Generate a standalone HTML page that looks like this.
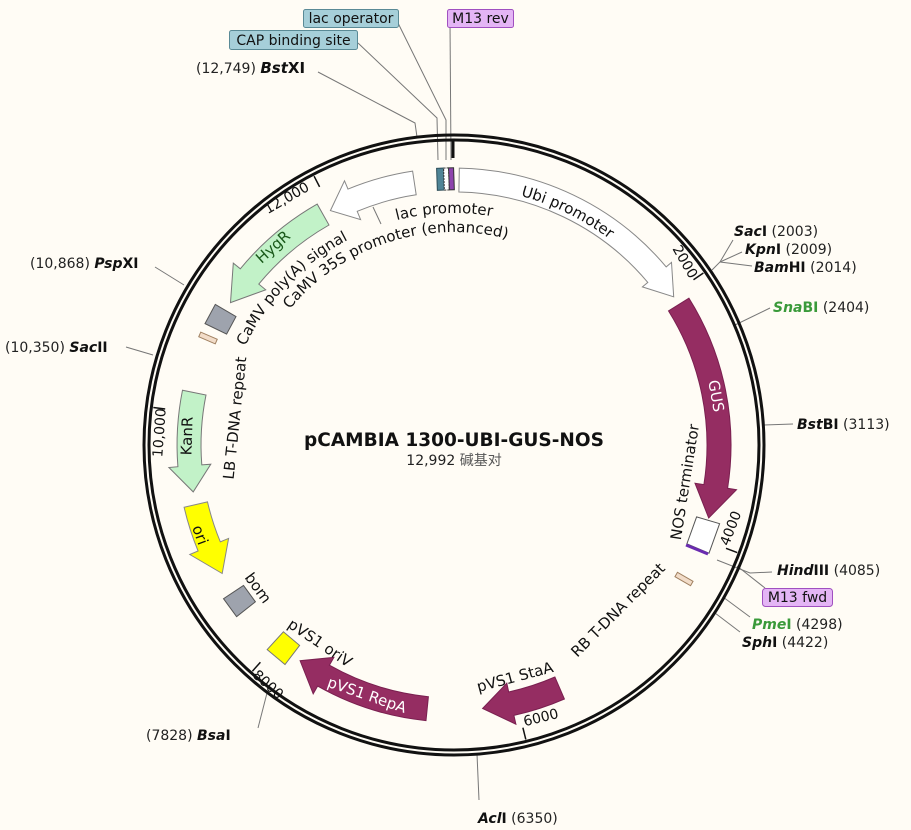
<!DOCTYPE html>
<html><head><meta charset="utf-8"><style>
html,body{margin:0;padding:0;background:#fffcf5;}
svg{display:block;font-family:"DejaVu Sans","Liberation Sans","Noto Sans CJK SC",sans-serif;}
.s{font-size:14px;fill:#111;}
.n{font-size:14px;fill:#222;}
.b{font-weight:bold;}
.l{stroke:#777;stroke-width:1;fill:none;}
.f{font-size:15px;fill:#111;}
</style></head><body>
<svg width="911" height="830" viewBox="0 0 911 830" xmlns="http://www.w3.org/2000/svg">
<rect width="911" height="830" fill="#fffcf5"/>

<polyline class="l" points="417,137 415,123 318,72"/>
<polyline class="l" points="438,160 437,118 358,43"/>
<polyline class="l" points="446,160 446,120 398,23"/>
<polyline class="l" points="451,160 450,23"/>
<polyline class="l" points="712,270 720,262 733,240"/>
<polyline class="l" points="720,262 742,252"/>
<polyline class="l" points="720,262 752,266"/>
<line class="l" x1="735" y1="325" x2="770" y2="308"/>
<line class="l" x1="764" y1="425" x2="793" y2="424"/>
<polyline class="l" points="717,560 750,573 772,572"/>
<polyline class="l" points="737,566 765,588"/>
<line class="l" x1="723" y1="597" x2="750" y2="617"/>
<line class="l" x1="715" y1="613" x2="740" y2="632"/>
<line class="l" x1="184" y1="285" x2="155" y2="267"/>
<line class="l" x1="153" y1="355" x2="126" y2="347"/>
<line class="l" x1="267" y1="693" x2="258" y2="728"/>
<line class="l" x1="477" y1="754" x2="479" y2="800"/>
<line class="l" x1="373" y1="207" x2="381" y2="224"/>

<circle cx="454" cy="445" r="310" fill="none" stroke="#111" stroke-width="3"/>
<circle cx="454" cy="445" r="305" fill="none" stroke="#111" stroke-width="3"/>
<line x1="453" y1="140" x2="453" y2="158" stroke="#111" stroke-width="3"/>

<g stroke="#111" stroke-width="1.5">
<line x1="703.4" y1="273" x2="693.5" y2="279.8"/>
<line x1="737.2" y1="552.6" x2="726" y2="548.3"/>
<line x1="525.8" y1="739.4" x2="522.9" y2="727.7"/>
<line x1="252.4" y1="671.2" x2="260.4" y2="662.3"/>
<line x1="153.3" y1="407.5" x2="165.2" y2="409"/>
<line x1="314.1" y1="176.2" x2="319.6" y2="186.9"/>
</g>
<g font-size="14" fill="#111" text-anchor="middle">
<text transform="translate(289,202) rotate(-30)">12,000</text>
<text transform="translate(681,264) rotate(60)">2000</text>
<text transform="translate(735,530) rotate(-69)">4000</text>
<text transform="translate(542,722) rotate(-14)">6000</text>
<text transform="translate(265,688) rotate(42)">8000</text>
<text transform="translate(164,433) rotate(-86)">10,000</text>
</g>

<path d="M459.3,168.1 A277,277 0 0,1 666.2,266.9 L671.5,262.4 L673.7,296.8 L642.4,286.9 L647.8,282.4 A253,253 0 0,0 458.9,192 Z" fill="#fff" stroke="#888"/>
<path d="M688.9,298.2 A277,277 0 0,1 727.6,488.3 L736.5,489.7 L708.7,518 L695,483.2 L703.9,484.6 A253,253 0 0,0 668.5,310.9 Z" fill="#952d62" stroke="#7a2050"/>
<path d="M719.6,523.7 L709,553.2 L686.9,543.8 L696.6,516.9 Z" fill="#fff" stroke="#555"/>
<line x1="686" y1="545" x2="708" y2="554" stroke="#6a2bb0" stroke-width="3"/>
<rect x="675" y="576.5" width="18" height="5" fill="#f2dcc8" stroke="#a08060" transform="rotate(30 684 579)"/>
<rect x="199" y="335.5" width="18" height="5" fill="#f2dcc8" stroke="#a08060" transform="rotate(23.5 208 338)"/>
<path d="M205,323.6 L215.3,304.4 L236,316.6 L226.6,334.1 Z" fill="#9ea3ad" stroke="#555"/>
<path d="M317.2,204.1 A277,277 0 0,0 240.3,268.8 L233.3,263.1 L230.5,302.6 L265.7,289.8 L258.8,284.1 A253,253 0 0,1 329,225 Z" fill="#c2f2c8" stroke="#777"/>
<path d="M412.6,171.1 A277,277 0 0,0 348,189.1 L344.5,180.8 L330.4,210.6 L360.6,219.6 L357.2,211.3 A253,253 0 0,1 416.2,194.8 Z" fill="#fff" stroke="#888"/>
<path d="M182.5,390.2 A277,277 0 0,0 177.9,466.7 L168.9,467.5 L193.2,491.9 L210.8,464.2 L201.8,464.9 A253,253 0 0,1 206,395 Z" fill="#c2f2c8" stroke="#777"/>
<path d="M184.1,507.3 A277,277 0 0,0 198.1,551 L189.8,554.5 L222.2,573.5 L228.6,538.4 L220.3,541.8 A253,253 0 0,1 207.5,501.9 Z" fill="#ffff00" stroke="#888"/>
<path d="M223.5,598.7 L236.6,616.7 L255.4,601.8 L243.5,585.4 Z" fill="#9ea3ad" stroke="#555"/>
<path d="M267.2,649.6 L285,664.5 L299.6,645.4 L283.4,631.8 Z" fill="#ffff00" stroke="#777"/>
<path d="M426,720.6 A277,277 0 0,1 317.6,686.1 L313.2,693.9 L300.1,660.7 L333.9,657.4 L329.4,665.2 A253,253 0 0,0 428.4,696.7 Z" fill="#952d62" stroke="#7a2050"/>
<path d="M564.4,699 A277,277 0 0,1 513.9,715.4 L515.9,724.2 L482.6,708.5 L506.8,683.2 L508.7,692 A253,253 0 0,0 554.9,677 Z" fill="#952d62" stroke="#7a2050"/>
<g transform="rotate(-2 446 180)">
<rect x="437" y="168" width="7" height="22" fill="#4f8496" stroke="#2d4d58"/>
<rect x="444" y="168" width="5" height="22" fill="#fff" stroke="#333" stroke-dasharray="2,1"/>
<rect x="449" y="168" width="5" height="22" fill="#8e44ad" stroke="#333"/>
</g>

<defs>
<path id="p35" d="M269.5,338.5 A213,213 0 0,1 540.6,250.4"/>
<path id="ppa" d="M223.6,428.9 A231,231 0 0,1 429.9,215.3"/>
<path id="pubi" d="M409.2,190.9 A258,258 0 0,1 681.8,323.9"/>
<path id="plac" d="M329.7,249.1 A232,232 0 0,1 561.5,239.4"/>
</defs>
<text class="f" text-anchor="middle"><textPath href="#p35" startOffset="50%">CaMV 35S promoter (enhanced)</textPath></text>
<text class="f" text-anchor="middle"><textPath href="#ppa" startOffset="50%">CaMV poly(A) signal</textPath></text>
<text class="f" text-anchor="middle"><textPath href="#pubi" startOffset="50%">Ubi promoter</textPath></text>
<text class="f" text-anchor="middle"><textPath href="#plac" startOffset="50%">lac promoter</textPath></text>

<g class="f" text-anchor="middle" dominant-baseline="central">
<text transform="translate(273,247) rotate(-42)" fill="#1a5a1a">HygR</text>
<text transform="translate(187,436) rotate(-88)">KanR</text>
<text transform="translate(200,535) rotate(70)">ori</text>
<text transform="translate(258,588) rotate(54)">bom</text>
<text transform="translate(320,643) rotate(34)">pVS1 oriV</text>
<text transform="translate(367,695) rotate(19)" fill="#fff">pVS1 RepA</text>
<text transform="translate(515,677) rotate(-15)">pVS1 StaA</text>
<text transform="translate(618,610) rotate(-45)">RB T-DNA repeat</text>
<text transform="translate(685,482) rotate(-81)">NOS terminator</text>
<text transform="translate(235,418) rotate(-84)">LB T-DNA repeat</text>
<text transform="translate(716,396) rotate(80)" fill="#fff">GUS</text>
</g>

<text x="454" y="446" text-anchor="middle" font-size="18.5" font-weight="bold" fill="#111">pCAMBIA 1300-UBI-GUS-NOS</text>
<text x="454" y="465" text-anchor="middle" font-size="14" fill="#222">12,992 <tspan fill="#555" font-family="'Noto Sans CJK SC',sans-serif">碱基对</tspan></text>

<rect x="303.5" y="9.5" width="95" height="18" rx="2" fill="#a6cfd9" stroke="#5a8a96"/>
<text x="351" y="23" text-anchor="middle" class="s">lac operator</text>
<rect x="229.5" y="30.5" width="128" height="19" rx="2" fill="#a6cfd9" stroke="#5a8a96"/>
<text x="293.5" y="45" text-anchor="middle" class="s">CAP binding site</text>
<rect x="447.5" y="9.5" width="66" height="18" rx="2" fill="#e4b5f5" stroke="#a050c0"/>
<text x="480.5" y="23" text-anchor="middle" class="s">M13 rev</text>
<rect x="762.5" y="588.5" width="70" height="18" rx="3" fill="#e4b5f5" stroke="#a050c0"/>
<text x="797.5" y="602" text-anchor="middle" class="s">M13 fwd</text>

<text x="196" y="73" class="n">(12,749)  <tspan class="b" fill="#111" font-size="15"><tspan font-style="italic">Bst</tspan>XI</tspan></text>
<text x="734" y="236" class="n"><tspan class="b" fill="#111"><tspan font-style="italic">Sac</tspan>I</tspan>  (2003)</text>
<text x="745" y="254" class="n"><tspan class="b" fill="#111"><tspan font-style="italic">Kpn</tspan>I</tspan>  (2009)</text>
<text x="754" y="272" class="n"><tspan class="b" fill="#111"><tspan font-style="italic">Bam</tspan>HI</tspan>  (2014)</text>
<text x="773" y="312" class="n"><tspan class="b" fill="#3a9a3a"><tspan font-style="italic">Sna</tspan>BI</tspan>  (2404)</text>
<text x="797" y="429" class="n"><tspan class="b" fill="#111"><tspan font-style="italic">Bst</tspan>BI</tspan>  (3113)</text>
<text x="777" y="575" class="n"><tspan class="b" fill="#111"><tspan font-style="italic">Hind</tspan>III</tspan>  (4085)</text>
<text x="752" y="629" class="n"><tspan class="b" fill="#3a9a3a"><tspan font-style="italic">Pme</tspan>I</tspan>  (4298)</text>
<text x="742" y="647" class="n"><tspan class="b" fill="#111"><tspan font-style="italic">Sph</tspan>I</tspan>  (4422)</text>
<text x="30" y="268" class="n">(10,868)  <tspan class="b" fill="#111"><tspan font-style="italic">Psp</tspan>XI</tspan></text>
<text x="5" y="352" class="n">(10,350)  <tspan class="b" fill="#111"><tspan font-style="italic">Sac</tspan>II</tspan></text>
<text x="146" y="740" class="n">(7828)  <tspan class="b" fill="#111"><tspan font-style="italic">Bsa</tspan>I</tspan></text>
<text x="478" y="823" class="n"><tspan class="b" fill="#111"><tspan font-style="italic">Acl</tspan>I</tspan>  (6350)</text>
</svg>
</body></html>
